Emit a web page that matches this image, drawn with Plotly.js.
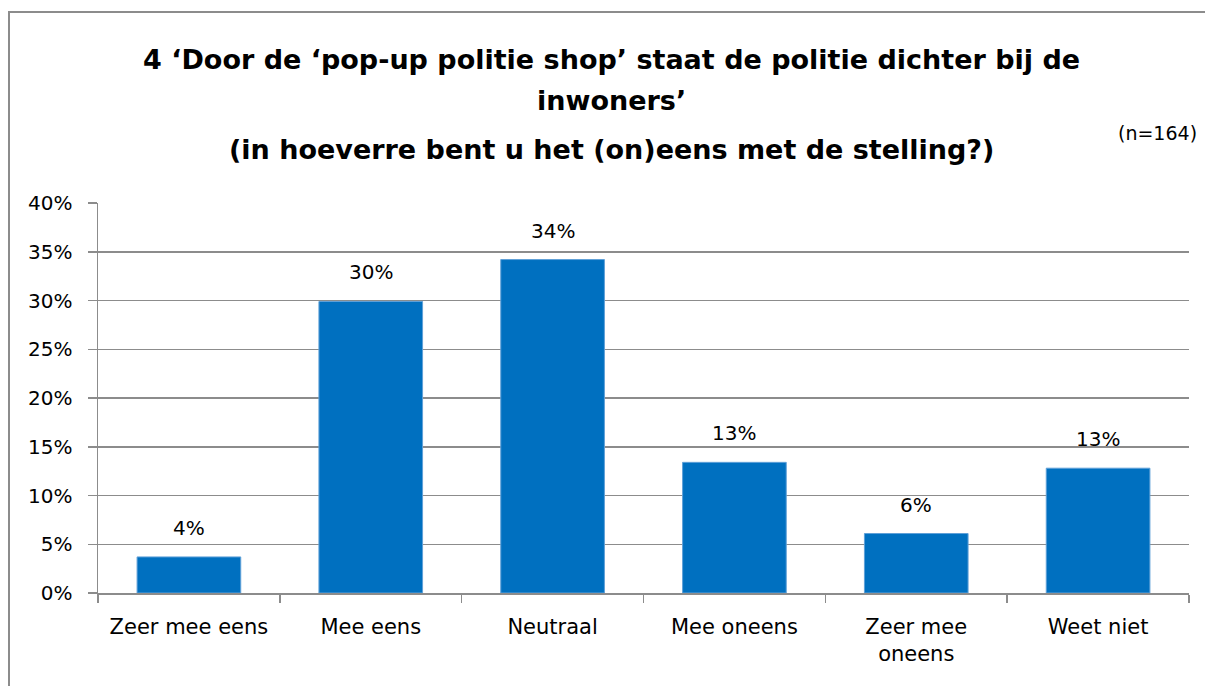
<!DOCTYPE html>
<html>
<head>
<meta charset="utf-8">
<script src="https://cdn.plot.ly/plotly-3.0.1.min.js"></script>
<style>
  html, body { margin: 0; padding: 0; background: #fff; overflow: hidden; }
  #frame { position: absolute; left: 8px; top: 11px; width: 1220px; height: 700px; border: 2px solid #8c8c8c; box-sizing: border-box; pointer-events: none; z-index: 5; }
  #chart { position: absolute; left: 0; top: 0; width: 1205px; height: 686px; }
</style>
</head>
<body>
<div id="chart"></div>
<div id="frame"></div>
<script>
// Data
const categories = ["Zeer mee eens", "Mee eens", "Neutraal", "Mee oneens", "Zeer mee<br>oneens", "Weet niet"];
const values = [3.7, 29.9, 34.2, 13.4, 6.1, 12.8];
const yTickValues = [0, 5, 10, 15, 20, 25, 30, 35, 40];
const titleLine1 = "4 ‘Door de ‘pop-up politie shop’ staat de politie dichter bij de";
const titleLine2 = "inwoners’";
const titleLine3 = "(in hoeverre bent u het (on)eens met de stelling?)";
const noteText = "(n=164)";

const FONT = "'DejaVu Sans', 'Liberation Sans', sans-serif";
const BLUE = "#0070C0";
const GRID = "#8c8c8c";

const trace = {
  type: "bar",
  x: categories,
  y: values,
  marker: { color: BLUE, line: { color: "#5fa0d8", width: 1 } },
  hoverinfo: "none"
};

const H = 390; // plot height px
function py(pix) { return (593 - pix) / H; }
function px(pix) { return (pix - 98) / 1091; }

const annotations = values.map((v, i) => ({
  x: categories[i], y: v, xref: "x", yref: "y",
  text: Math.round(v) + "%", showarrow: false,
  yanchor: "bottom", yshift: 15,
  font: { family: FONT, size: 20, color: "#000" }
}));

const titleFont = { family: FONT, size: 27, color: "#000" };
annotations.push(
  { xref: "paper", yref: "paper", x: px(611), y: py(59), text: "<b>" + titleLine1 + "</b>", showarrow: false, xanchor: "center", yanchor: "middle", font: titleFont },
  { xref: "paper", yref: "paper", x: px(611), y: py(100), text: "<b>" + titleLine2 + "</b>", showarrow: false, xanchor: "center", yanchor: "middle", font: titleFont },
  { xref: "paper", yref: "paper", x: px(611), y: py(149), text: "<b>" + titleLine3 + "</b>", showarrow: false, xanchor: "center", yanchor: "middle", font: titleFont },
  { xref: "paper", yref: "paper", x: px(1199), y: py(133), text: noteText, showarrow: false, xanchor: "right", yanchor: "middle", font: { family: FONT, size: 19, color: "#000" } }
);

const layout = {
  width: 1205, height: 686,
  margin: { l: 98, r: 16, t: 203, b: 93, pad: 0 },
  paper_bgcolor: "#fff", plot_bgcolor: "#fff",
  showlegend: false,
  bargap: 0.43,
  xaxis: {
    type: "category",
    tickson: "boundaries",
    ticks: "outside", ticklen: 8, tickcolor: GRID, tickwidth: 1.5,
    showline: true, linecolor: GRID, linewidth: 1.5,
    showgrid: false,
    tickfont: { family: FONT, size: 21, color: "#000" },
    ticklabelstandoff: 14,
    fixedrange: true
  },
  yaxis: {
    range: [0, 40],
    tickvals: yTickValues,
    ticktext: yTickValues.map(v => v + "%"),
    ticks: "outside", ticklen: 9, tickcolor: GRID, tickwidth: 1.5,
    showline: true, linecolor: GRID, linewidth: 1.5,
    showgrid: true, gridcolor: GRID, gridwidth: 1.5,
    zeroline: false,
    tickfont: { family: FONT, size: 20, color: "#000" },
    ticklabelstandoff: 11,
    fixedrange: true
  },
  annotations: annotations
};

Plotly.newPlot("chart", [trace], layout, { displayModeBar: false, staticPlot: true });
</script>
</body>
</html>
